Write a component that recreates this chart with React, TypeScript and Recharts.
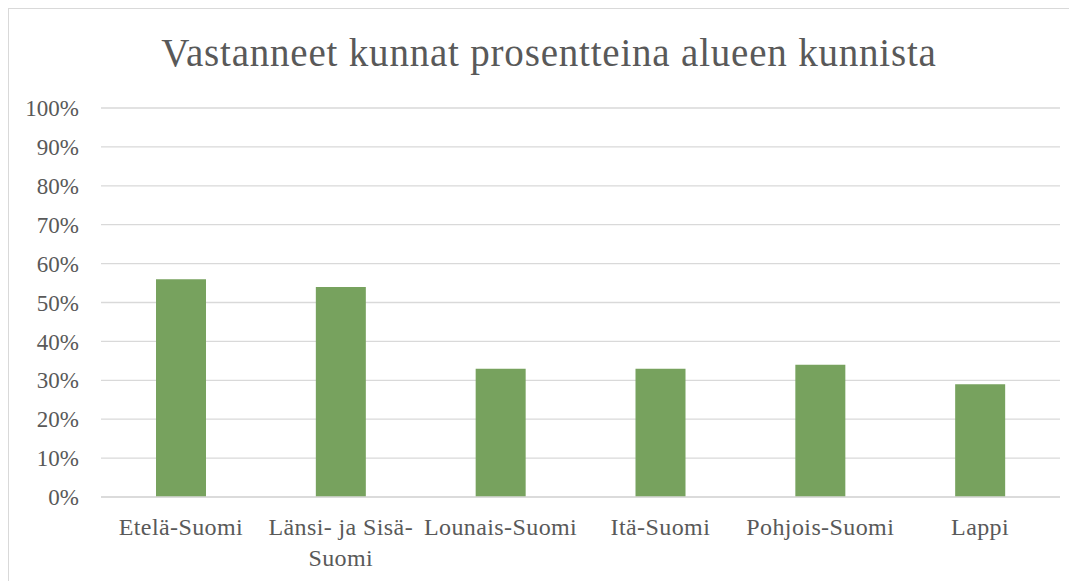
import React from 'react';
import { BarChart, Bar, XAxis, YAxis, CartesianGrid } from 'recharts';

const REGIONS = ['Etelä-Suomi', 'Länsi- ja Sisä-Suomi', 'Lounais-Suomi', 'Itä-Suomi', 'Pohjois-Suomi', 'Lappi'];
const REGION_TICK_LINES = [['Etelä-Suomi'], ['Länsi- ja Sisä-', 'Suomi'], ['Lounais-Suomi'], ['Itä-Suomi'], ['Pohjois-Suomi'], ['Lappi']];
const RESPONSE_SHARE = [56, 54, 33, 33, 34, 29];
const Y_TICKS = [0, 10, 20, 30, 40, 50, 60, 70, 80, 90, 100];

const TITLE = 'Vastanneet kunnat prosentteina alueen kunnista';
const FONT = '"Liberation Serif", "DejaVu Serif", serif';
const TEXT_COLOR = '#595959';
const GRID_COLOR = '#D9D9D9';
const BAR_COLOR = '#77A25E';

const data = REGIONS.map((name, i) => ({ name, value: RESPONSE_SHARE[i] }));

function RegionTick({ x, y, index }: any) {
  const lines = REGION_TICK_LINES[index] ?? [];
  return (
    <text x={x} y={y} textAnchor="middle" fill={TEXT_COLOR} fontSize={24} letterSpacing={0.4} fontFamily={FONT}>
      {lines.map((line, i) => (
        <tspan key={i} x={x} dy={i === 0 ? 30 : 31}>
          {line}
        </tspan>
      ))}
    </text>
  );
}

export default function App() {
  return (
    <div
      style={{
        width: 1069,
        height: 573,
        borderLeft: `1px solid ${GRID_COLOR}`,
        borderTop: `1px solid ${GRID_COLOR}`,
        overflow: 'hidden',
        background: '#fff',
      }}
    >
      <BarChart
        width={1068}
        height={572}
        data={data}
        margin={{ top: 99, right: 17, left: 0, bottom: 0 }}
        barSize={50}
      >
        <text
          x={540}
          y={57}
          textAnchor="middle"
          fill={TEXT_COLOR}
          fontSize={39}
          letterSpacing={0.8}
          fontFamily={FONT}
        >
          {TITLE}
        </text>
        <CartesianGrid vertical={false} stroke={GRID_COLOR} strokeWidth={1.3} />
        <XAxis
          dataKey="name"
          height={84}
          tickLine={false}
          axisLine={{ stroke: GRID_COLOR, strokeWidth: 1.3 }}
          interval={0}
          tick={<RegionTick />}
        />
        <YAxis
          width={92}
          domain={[0, 100]}
          ticks={Y_TICKS}
          interval={0}
          tickLine={false}
          axisLine={false}
          tickSize={0}
          tickMargin={22}
          tickFormatter={(v: number) => `${v}%`}
          tick={{ fill: TEXT_COLOR, fontSize: 23, fontFamily: FONT }}
        />
        <Bar dataKey="value" fill={BAR_COLOR} isAnimationActive={false} />
      </BarChart>
    </div>
  );
}
